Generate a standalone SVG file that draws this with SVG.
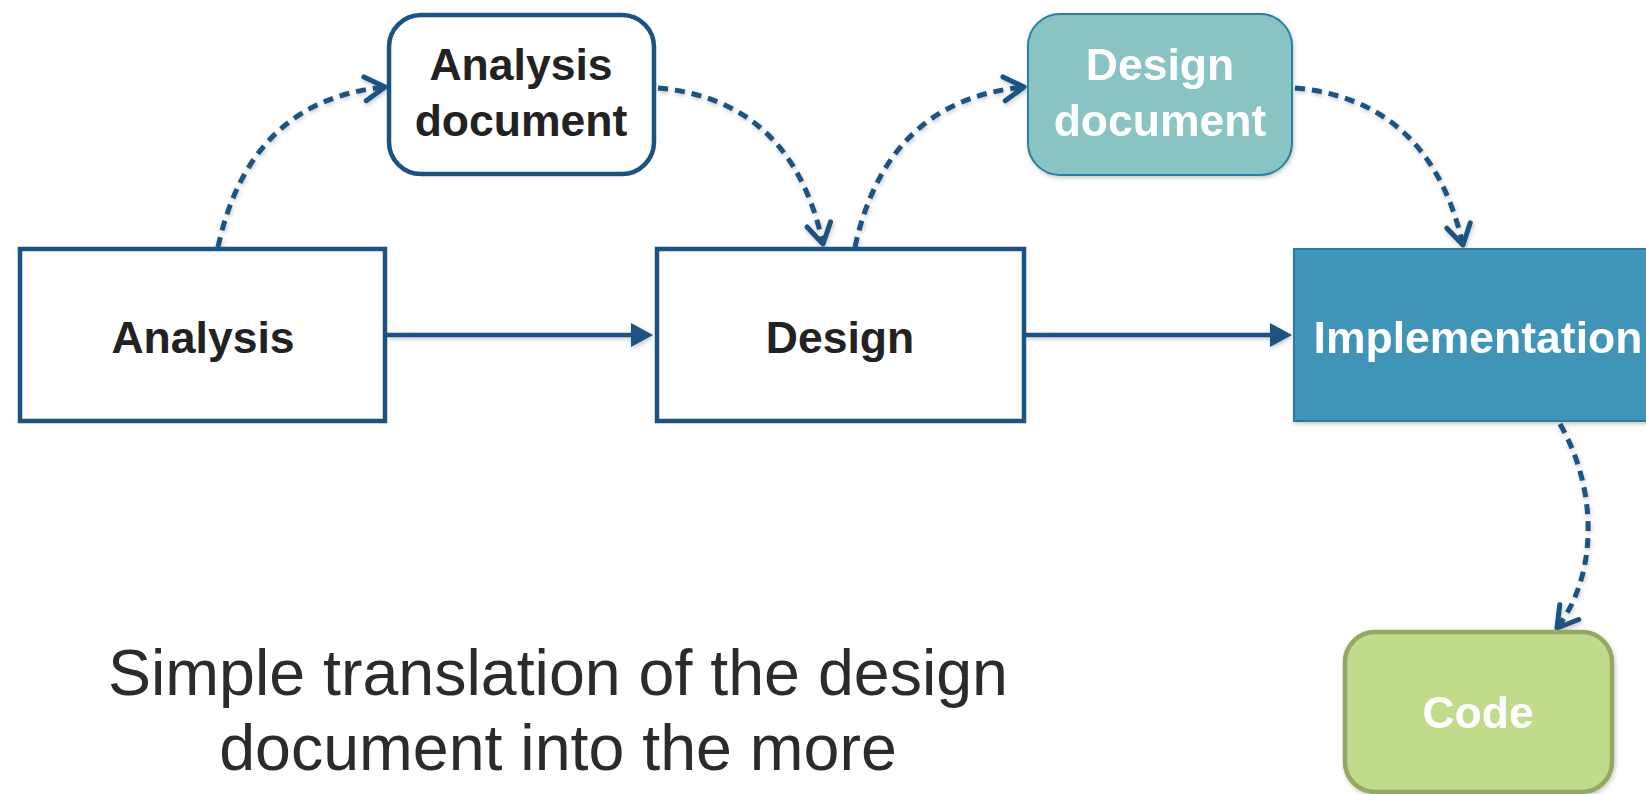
<svg xmlns="http://www.w3.org/2000/svg" width="1646" height="794" viewBox="0 0 1646 794">
  <style>
    .box { stroke: #1b5282; stroke-width: 4.5; fill: #ffffff; }
    .label { font-family: "Liberation Sans", Arial, Helvetica, sans-serif; font-weight: bold; font-size: 44.5px; text-anchor: middle; fill: #222222; }
    .light { fill: #ffffff; }
    .flow { stroke: #1b5282; stroke-width: 4.5; fill: none; }
    .doc { stroke-width: 5; stroke-dasharray: 10 7; }
    .note { font-family: "Liberation Sans", Arial, Helvetica, sans-serif; font-size: 64.5px; text-anchor: middle; fill: #2b2b2b; }
  </style>
  <defs>
    <filter id="shadow" x="-10%" y="-10%" width="120%" height="130%">
      <feDropShadow dx="1" dy="2" stdDeviation="2" flood-color="#000000" flood-opacity="0.22"/>
    </filter>
    <!-- solid filled head for the main process flow -->
    <marker id="head" markerUnits="userSpaceOnUse" markerWidth="40" markerHeight="40" viewBox="-40 -20 40 40" refX="-12" refY="0" orient="auto" overflow="visible">
      <path d="M -22 -12 L 0 0 L -22 12 Z" fill="#1b5282"/>
    </marker>
    <!-- open chevron head for document hand-offs -->
    <marker id="chev" markerUnits="userSpaceOnUse" markerWidth="40" markerHeight="40" viewBox="-40 -20 40 40" refX="0" refY="0" orient="auto" overflow="visible">
      <path d="M -20 -12 L 0 0 L -20 12" fill="none" stroke="#1b5282" stroke-width="5" stroke-linecap="round" stroke-linejoin="round"/>
    </marker>
  </defs>

  <g id="connectors" filter="url(#shadow)">
    <path class="flow" d="M 387 335 L 641 335" marker-end="url(#head)"/>
    <path class="flow" d="M 1026 335 L 1280 335" marker-end="url(#head)"/>
    <path class="flow doc" d="M 218 247 Q 250 100 385 87" marker-end="url(#chev)"/>
    <path class="flow doc" d="M 658 88 Q 792 100 823 244" marker-end="url(#chev)"/>
    <path class="flow doc" d="M 855 247 Q 887 100 1024 87" marker-end="url(#chev)"/>
    <path class="flow doc" d="M 1295 88 Q 1430 100 1463 245" marker-end="url(#chev)"/>
    <path class="flow doc" d="M 1560 424 C 1598 490 1598 575 1557 628" marker-end="url(#chev)"/>
  </g>

  <g id="analysis">
    <rect class="box" x="20" y="249" width="365" height="172"/>
    <text class="label" x="203" y="353">Analysis</text>
  </g>

  <g id="analysis-document">
    <rect class="box" x="389" y="15" width="265" height="159" rx="32" ry="32"/>
    <text class="label" x="521" y="80">Analysis</text>
    <text class="label" x="521" y="136">document</text>
  </g>

  <g id="design">
    <rect class="box" x="657" y="249" width="367" height="172"/>
    <text class="label" x="840" y="353">Design</text>
  </g>

  <g id="design-document" filter="url(#shadow)">
    <rect x="1028" y="14" width="264" height="161" rx="32" ry="32" fill="#8ac3c4" stroke="#2c7fa2" stroke-width="2"/>
    <text class="label light" x="1160" y="80">Design</text>
    <text class="label light" x="1160" y="136">document</text>
  </g>

  <g id="implementation" filter="url(#shadow)">
    <rect x="1294" y="249" width="369" height="172" fill="#4194b8" stroke="#2a7aa0" stroke-width="2"/>
    <text class="label light" x="1478" y="353">Implementation</text>
  </g>

  <g id="code" filter="url(#shadow)">
    <rect x="1345" y="632" width="267" height="160" rx="30" ry="30" fill="#c0dc8a" stroke="#94a866" stroke-width="4.5"/>
    <text class="label light" x="1478" y="728">Code</text>
  </g>

  <g id="caption">
    <text class="note" x="558" y="695">Simple translation of the design</text>
    <text class="note" x="558" y="770">document into the more</text>
  </g>
</svg>
